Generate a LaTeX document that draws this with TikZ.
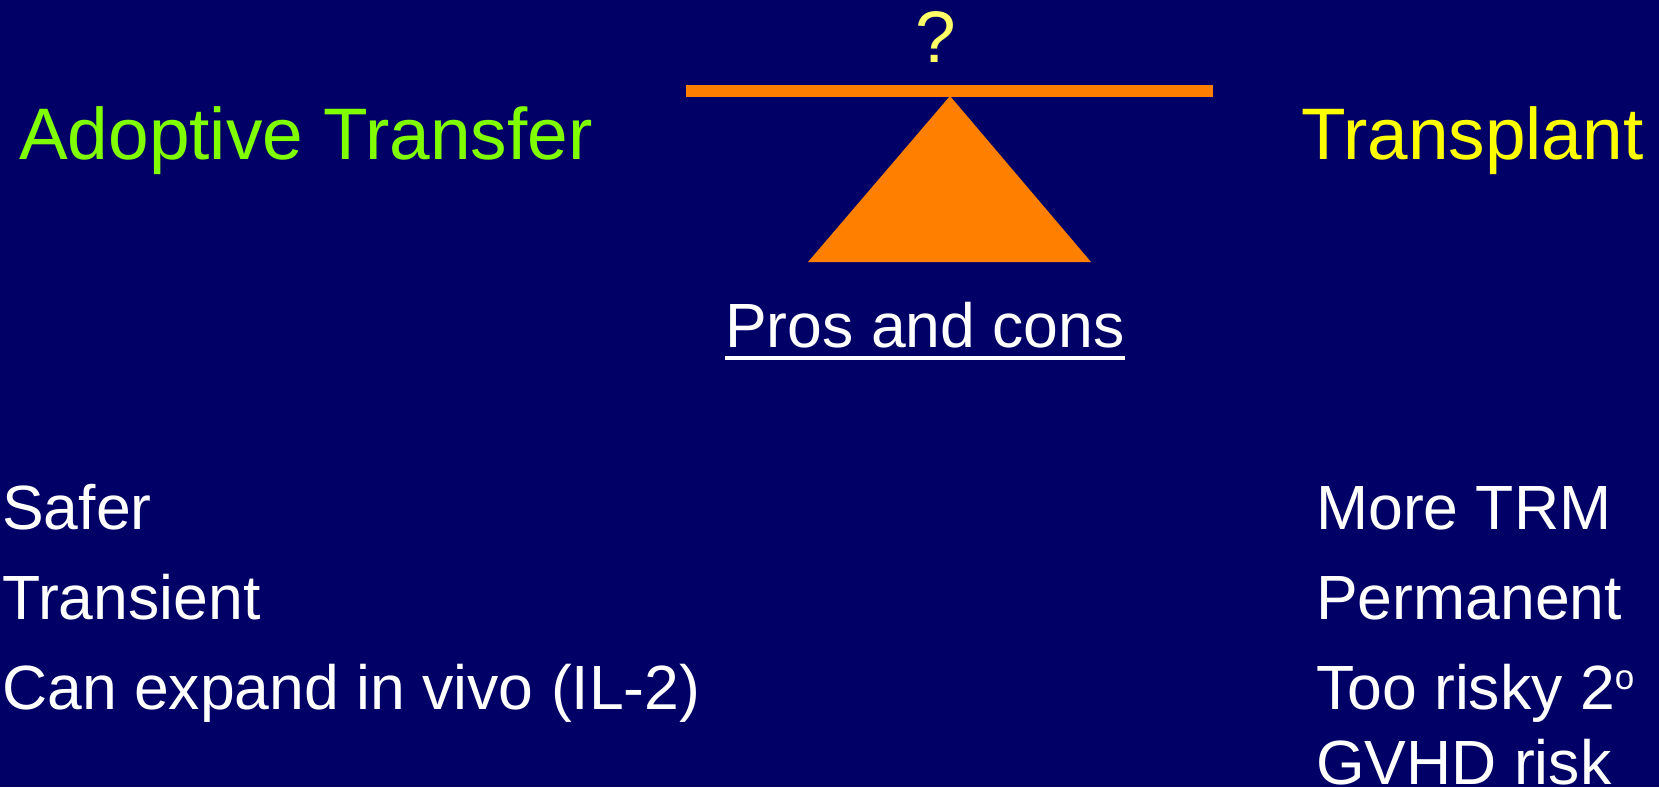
\documentclass[tikz,border=0pt]{standalone}
\usepackage{fontspec}
\setmainfont{Liberation Sans}
\usepackage{tikz}
\usetikzlibrary{positioning, calc}

\definecolor{slidebg}{HTML}{000066}
\definecolor{beamorange}{HTML}{FF8000}
\definecolor{adoptgreen}{HTML}{80FF00}
\definecolor{transyellow}{HTML}{FFFF00}
\definecolor{qyellow}{HTML}{FFFF66}

\begin{document}
\begin{tikzpicture}[
  x=1pt, y=-1pt,
  title/.style={inner sep=0pt, anchor=base west, font=\fontsize{73}{88}\selectfont},
  item/.style={inner sep=0pt, anchor=base west, text=white, font=\fontsize{62.5}{75}\selectfont}
]
  \fill[slidebg] (0,0) rectangle (1659,787);

  % balance
  \fill[beamorange] (686,85) rectangle (1213,97);
  \fill[beamorange] (808,262) -- (950,96) -- (1091,262) -- cycle;
  \node[inner sep=0pt, anchor=base, text=qyellow, font=\fontsize{73}{88}\selectfont] (q) at (936,62) {?};

  \node[title, text=adoptgreen] (adopt) at (19,159) {Adoptive Transfer};
  \node[title, text=transyellow] (trans) at (1301,159) {Transplant};

  \node[item, anchor=base] (pc) at (925,347) {Pros and cons};
  \draw[white, line width=4pt] ($(pc.base west)+(0,11)$) -- ($(pc.base east)+(0,11)$);

  % left list
  \node[item] (safer) at (2,529) {Safer};
  \node[item] (transient) at (2,619) {Transient};
  \node[item] (expand) at (2,709) {Can expand in vivo (IL-2)};

  % right list
  \node[item] (trm) at (1316,529) {More TRM};
  \node[item] (perm) at (1316,619) {Permanent};
  \node[item] (risky) at (1316,709) {Too risky 2\raisebox{20pt}{\fontsize{35}{40}\selectfont o}};
  \node[item] (gvhd) at (1316,784) {GVHD risk};
\end{tikzpicture}
\end{document}
